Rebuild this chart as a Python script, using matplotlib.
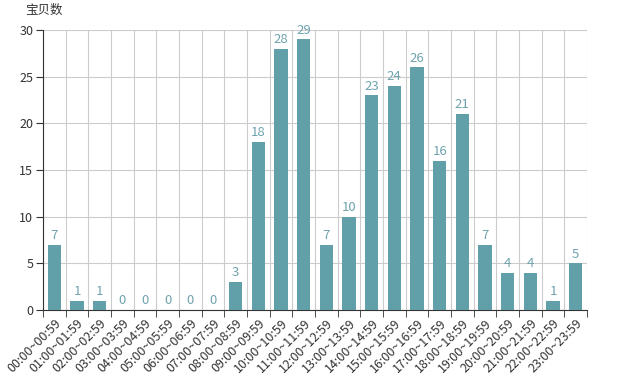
import matplotlib
matplotlib.use("Agg")
import matplotlib.pyplot as plt
import numpy as np

plt.rcParams['font.family'] = ['Noto Sans CJK SC', 'DejaVu Sans']

categories = [f"{h:02d}:00~{h:02d}:59" for h in range(24)]
values = [7, 1, 1, 0, 0, 0, 0, 0, 3, 18, 28, 29, 7, 10, 23, 24, 26, 16, 21, 7, 4, 4, 1, 5]
y_ticks = [0, 5, 10, 15, 20, 25, 30]
y_name = "宝贝数"

bar_color = "#61a0a8"
label_color = "#6fa3ae"

fig = plt.figure(figsize=(6.27, 3.89), dpi=100)
ax = fig.add_axes([43/627, 1-310/389, (587-43)/627, (310-30)/389])

x = np.arange(len(categories))
ax.bar(x, values, width=0.6, color=bar_color, zorder=3)
for xi, v in zip(x, values):
    ax.text(xi, v + 0.3, str(v), ha='center', va='bottom', fontsize=9.5, color=label_color, zorder=4)

ax.set_xlim(-0.5, len(categories) - 0.5)
ax.set_ylim(0, 30)
ax.set_yticks(y_ticks)
ax.set_yticklabels([str(t) for t in y_ticks], fontsize=9, color="#333333")

boundaries = np.arange(-0.5, len(categories) + 0.5, 1)
ax.set_xticks(boundaries, minor=True)
ax.set_xticks(x)
ax.set_xticklabels(categories, rotation=45, ha='right', rotation_mode='anchor', fontsize=9, color="#333333")
ax.tick_params(axis='x', which='major', length=0, pad=5)
ax.tick_params(axis='x', which='minor', length=5, color="#333333")
ax.tick_params(axis='y', length=5, color="#333333", pad=2)
ax.grid(axis='x', which='minor', color="#cccccc", linewidth=0.8, zorder=0)
ax.grid(axis='y', which='major', color="#cccccc", linewidth=0.8, zorder=0)

for s in ['top', 'right']:
    ax.spines[s].set_visible(False)
ax.spines['left'].set_color("#333333")
ax.spines['bottom'].set_color("#333333")

fig.text(25/627, 1-10/389, y_name, fontsize=9, color="#333333", ha='left', va='center')

fig.savefig("out.png", dpi=100)
